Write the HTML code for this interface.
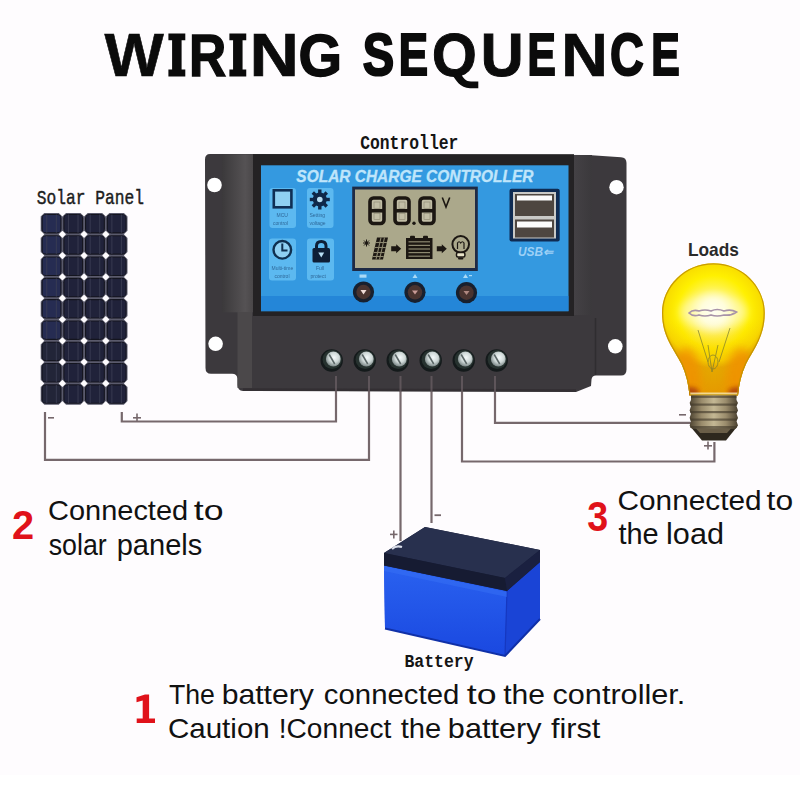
<!DOCTYPE html>
<html>
<head>
<meta charset="utf-8">
<style>
html,body{margin:0;padding:0;background:#fefcfe;}
body{width:800px;height:800px;overflow:hidden;position:relative;}
svg{position:absolute;left:0;top:0;display:block;}
.sans{font-family:"Liberation Sans",sans-serif;}
.mono{font-family:"Liberation Mono",monospace;}
</style>
</head>
<body>
<svg width="800" height="800" viewBox="0 0 800 800">
<defs>
  <radialGradient id="glass" cx="0.5" cy="0.38" r="0.62">
    <stop offset="0" stop-color="#fffff0"/>
    <stop offset="0.25" stop-color="#fffca0"/>
    <stop offset="0.55" stop-color="#fff000"/>
    <stop offset="0.85" stop-color="#f5c800"/>
    <stop offset="1" stop-color="#d99a00"/>
  </radialGradient>
  <linearGradient id="glassBottom" x1="0" y1="0" x2="0" y2="1">
    <stop offset="0" stop-color="#ff9900" stop-opacity="0"/>
    <stop offset="0.6" stop-color="#f59000" stop-opacity="0"/>
    <stop offset="0.85" stop-color="#ee8a00" stop-opacity="0.75"/>
    <stop offset="1" stop-color="#c86000" stop-opacity="0.9"/>
  </linearGradient>
  <linearGradient id="brass" x1="0" y1="0" x2="1" y2="0">
    <stop offset="0" stop-color="#5a4e3a"/>
    <stop offset="0.3" stop-color="#a89a78"/>
    <stop offset="0.55" stop-color="#c8bc98"/>
    <stop offset="0.8" stop-color="#9a8c6c"/>
    <stop offset="1" stop-color="#4a4030"/>
  </linearGradient>
  <radialGradient id="screw" cx="0.55" cy="0.4" r="0.6">
    <stop offset="0" stop-color="#f4fafa"/>
    <stop offset="0.55" stop-color="#cfd9d8"/>
    <stop offset="1" stop-color="#7c8888"/>
  </radialGradient>
  <linearGradient id="batFront" x1="0" y1="0" x2="0" y2="1">
    <stop offset="0" stop-color="#2a62f0"/>
    <stop offset="1" stop-color="#1a48e0"/>
  </linearGradient>
</defs>

<rect x="0" y="775" width="800" height="25" fill="#ffffff"/>
<!-- Title -->
<g font-family="Liberation Sans" font-weight="bold" fill="#0b0b0b" stroke="#0b0b0b" stroke-linejoin="miter"><text transform="translate(104.41,76.10) scale(1.0245,1)" font-size="61.30" stroke-width="0.6">W</text>
<text transform="translate(188.89,75.70) scale(0.8577,1)" font-size="60.14" stroke-width="1.4">R</text>
<text transform="translate(249.54,76.10) scale(1.1174,1)" font-size="61.30" stroke-width="0.6">N</text>
<text transform="translate(298.41,75.70) scale(0.9315,1)" font-size="60.14" stroke-width="1.4">G</text>
<text transform="translate(362.87,75.30) scale(0.7981,1)" font-size="58.99" stroke-width="2.2">S</text>
<text transform="translate(398.75,75.30) scale(0.7436,1)" font-size="58.99" stroke-width="2.2">E</text>
<text transform="translate(431.92,75.90) scale(0.9481,1)" font-size="60.72" stroke-width="1.0">O</text>
<path stroke="none" d="M452,74.5 C456,80 460,88.2 470,88.2 L478.3,88.2 L478.3,81.5 L471,81.5 C466,81.5 463,78 461,73.5 Z"/>
<text transform="translate(480.68,75.90) scale(0.9764,1)" font-size="60.72" stroke-width="1.0">U</text>
<text transform="translate(527.52,75.30) scale(0.7181,1)" font-size="58.99" stroke-width="2.2">E</text>
<text transform="translate(561.06,76.10) scale(1.0634,1)" font-size="61.30" stroke-width="0.6">N</text>
<text transform="translate(609.92,75.40) scale(0.7896,1)" font-size="59.28" stroke-width="2.0">C</text>
<text transform="translate(651.31,75.30) scale(0.7238,1)" font-size="58.99" stroke-width="2.2">E</text>
<path stroke="none" d="M168.4,33.5 H185.3 V40.3 H181.60 V69.60 H185.3 V76.4 H168.4 V69.60 H172.10 V40.3 H168.4 Z"/>
<path stroke="none" d="M229.4,33.5 H246.25 V40.3 H242.57 V69.60 H246.25 V76.4 H229.4 V69.60 H233.07 V40.3 H229.4 Z"/></g>

<!-- TEXTS -->
<path d="M136.5,697.3 L145,694.4 L149.1,694.4 L149.1,718.6 L155,718.6 L155,723.1 L136.7,723.1 L136.7,718.6 L142.7,718.6 L142.7,700.6 L136.5,702.3 Z" fill="#e0121a"/>
<g font-family="Liberation Sans" fill="#111111">
<text transform="translate(48.05,520.00) scale(1.0317,1)" font-size="28.08">Connected</text>
<text transform="translate(193.79,520.00) scale(1.2718,1)" font-size="28.08">to</text>
<text transform="translate(48.70,554.50) scale(0.9196,1)" font-size="29.11">solar</text>
<text transform="translate(116.72,554.50) scale(0.9979,1)" font-size="29.11">panels</text>
<text transform="translate(617.51,509.70) scale(1.0765,1)" font-size="27.67">Connected</text>
<text transform="translate(766.56,509.70) scale(1.1499,1)" font-size="27.67">to</text>
<text transform="translate(618.42,543.66) scale(1.0106,1)" font-size="28.64">the</text>
<text transform="translate(666.06,543.66) scale(1.0692,1)" font-size="28.64">load</text>
<text transform="translate(168.97,703.50) scale(0.9853,1)" font-size="27.05">The</text>
<text transform="translate(221.64,703.50) scale(1.1163,1)" font-size="27.05">battery</text>
<text transform="translate(323.82,703.50) scale(1.0859,1)" font-size="27.05">connected</text>
<text transform="translate(466.79,703.50) scale(1.3201,1)" font-size="27.05">to</text>
<text transform="translate(503.15,703.50) scale(1.1116,1)" font-size="27.05">the</text>
<text transform="translate(552.52,703.50) scale(1.1331,1)" font-size="27.05">controller.</text>
<text transform="translate(167.92,738.00) scale(1.0786,1)" font-size="27.40">Caution</text>
<text transform="translate(278.72,738.00) scale(1.0269,1)" font-size="27.40">!Connect</text>
<text transform="translate(400.67,738.00) scale(1.0634,1)" font-size="27.40">the</text>
<text transform="translate(447.86,738.00) scale(1.1177,1)" font-size="27.40">battery</text>
<text transform="translate(550.94,738.00) scale(1.1191,1)" font-size="27.40">first</text>
</g>
<text transform="translate(12.06,538.75) scale(0.9689,1)" font-family="Liberation Sans" font-weight="bold" font-style="normal" font-size="41.07" fill="#e0121a">2</text>
<text transform="translate(587.35,531.25) scale(0.8968,1)" font-family="Liberation Sans" font-weight="bold" font-style="normal" font-size="41.93" fill="#e0121a">3</text>
<text transform="translate(687.99,255.60) scale(0.9575,1)" font-family="Liberation Sans" font-weight="bold" font-style="normal" font-size="18.08" fill="#2a2a2a">Loads</text>
<text transform="translate(360.14,149.00) scale(0.8274,1)" font-family="Liberation Mono" font-weight="bold" font-style="normal" font-size="19.79" fill="#151515">Controller</text>
<text transform="translate(36.85,204.00) scale(0.8315,1)" font-family="Liberation Mono" font-weight="normal" font-style="normal" font-size="19.52" fill="#1c1c1c" stroke="#1c1c1c" stroke-width="0.45">Solar Panel</text>
<text transform="translate(404.45,666.90) scale(0.8697,1)" font-family="Liberation Mono" font-weight="bold" font-style="normal" font-size="18.94" fill="#151515">Battery</text>
<!-- WIRES -->
<g fill="none" stroke="#76686c" stroke-width="2.2">
  <polyline points="121.8,412 121.8,421.5 336,421.5 336,378"/>
  <polyline points="45,412 45,459.8 369,459.8 369,378"/>
  <polyline points="400.5,378 400.5,541"/>
  <polyline points="431.5,378 431.5,523"/>
  <polyline points="462,378 462,461.5 714.4,461.5 714.4,442"/>
  <polyline points="495,378 495,422.8 691,422.8"/>
</g>
<g fill="#76686c" class="sans" font-size="12" font-weight="bold">
  <rect x="48" y="417" width="6" height="1.6"/>
  <rect x="133" y="417" width="8" height="1.6"/><rect x="136.2" y="413.5" width="1.6" height="8"/>
  <rect x="679" y="414" width="7" height="1.6"/>
  <rect x="704" y="445" width="8" height="1.6"/><rect x="707.2" y="441.5" width="1.6" height="8"/>
  <rect x="390" y="533.6" width="7.5" height="1.6"/><rect x="393" y="530.5" width="1.6" height="8"/>
  <rect x="434.5" y="514.3" width="6.5" height="1.8"/>
</g>

<!-- SOLAR PANEL placeholder -->
<g id="panel"><rect x="40.7" y="213.0" width="86.80" height="191.70" rx="3" fill="#5a5a6c"/>
<rect x="41.60" y="213.90" width="19.90" height="19.50" rx="4.5" fill="#14151f"/>
<rect x="42.70" y="215.00" width="17.70" height="17.30" rx="2.5" fill="#262c52"/>
<line x1="46.78" y1="214.50" x2="46.78" y2="232.80" stroke="#3a3c52" stroke-width="0.9"/>
<line x1="56.32" y1="214.50" x2="56.32" y2="232.80" stroke="#3a3c52" stroke-width="0.9"/>
<rect x="63.30" y="213.90" width="19.90" height="19.50" rx="4.5" fill="#14151f"/>
<rect x="64.40" y="215.00" width="17.70" height="17.30" rx="2.5" fill="#20223a"/>
<line x1="68.48" y1="214.50" x2="68.48" y2="232.80" stroke="#3a3c52" stroke-width="0.9"/>
<line x1="78.02" y1="214.50" x2="78.02" y2="232.80" stroke="#3a3c52" stroke-width="0.9"/>
<rect x="85.00" y="213.90" width="19.90" height="19.50" rx="4.5" fill="#14151f"/>
<rect x="86.10" y="215.00" width="17.70" height="17.30" rx="2.5" fill="#20223a"/>
<line x1="90.18" y1="214.50" x2="90.18" y2="232.80" stroke="#3a3c52" stroke-width="0.9"/>
<line x1="99.72" y1="214.50" x2="99.72" y2="232.80" stroke="#3a3c52" stroke-width="0.9"/>
<rect x="106.70" y="213.90" width="19.90" height="19.50" rx="4.5" fill="#14151f"/>
<rect x="107.80" y="215.00" width="17.70" height="17.30" rx="2.5" fill="#20223a"/>
<line x1="111.88" y1="214.50" x2="111.88" y2="232.80" stroke="#3a3c52" stroke-width="0.9"/>
<line x1="121.42" y1="214.50" x2="121.42" y2="232.80" stroke="#3a3c52" stroke-width="0.9"/>
<rect x="41.60" y="235.20" width="19.90" height="19.50" rx="4.5" fill="#14151f"/>
<rect x="42.70" y="236.30" width="17.70" height="17.30" rx="2.5" fill="#262c52"/>
<line x1="46.78" y1="235.80" x2="46.78" y2="254.10" stroke="#3a3c52" stroke-width="0.9"/>
<line x1="56.32" y1="235.80" x2="56.32" y2="254.10" stroke="#3a3c52" stroke-width="0.9"/>
<rect x="63.30" y="235.20" width="19.90" height="19.50" rx="4.5" fill="#14151f"/>
<rect x="64.40" y="236.30" width="17.70" height="17.30" rx="2.5" fill="#20223a"/>
<line x1="68.48" y1="235.80" x2="68.48" y2="254.10" stroke="#3a3c52" stroke-width="0.9"/>
<line x1="78.02" y1="235.80" x2="78.02" y2="254.10" stroke="#3a3c52" stroke-width="0.9"/>
<rect x="85.00" y="235.20" width="19.90" height="19.50" rx="4.5" fill="#14151f"/>
<rect x="86.10" y="236.30" width="17.70" height="17.30" rx="2.5" fill="#20223a"/>
<line x1="90.18" y1="235.80" x2="90.18" y2="254.10" stroke="#3a3c52" stroke-width="0.9"/>
<line x1="99.72" y1="235.80" x2="99.72" y2="254.10" stroke="#3a3c52" stroke-width="0.9"/>
<rect x="106.70" y="235.20" width="19.90" height="19.50" rx="4.5" fill="#14151f"/>
<rect x="107.80" y="236.30" width="17.70" height="17.30" rx="2.5" fill="#20223a"/>
<line x1="111.88" y1="235.80" x2="111.88" y2="254.10" stroke="#3a3c52" stroke-width="0.9"/>
<line x1="121.42" y1="235.80" x2="121.42" y2="254.10" stroke="#3a3c52" stroke-width="0.9"/>
<rect x="41.60" y="256.50" width="19.90" height="19.50" rx="4.5" fill="#14151f"/>
<rect x="42.70" y="257.60" width="17.70" height="17.30" rx="2.5" fill="#262c52"/>
<line x1="46.78" y1="257.10" x2="46.78" y2="275.40" stroke="#3a3c52" stroke-width="0.9"/>
<line x1="56.32" y1="257.10" x2="56.32" y2="275.40" stroke="#3a3c52" stroke-width="0.9"/>
<rect x="63.30" y="256.50" width="19.90" height="19.50" rx="4.5" fill="#14151f"/>
<rect x="64.40" y="257.60" width="17.70" height="17.30" rx="2.5" fill="#20223a"/>
<line x1="68.48" y1="257.10" x2="68.48" y2="275.40" stroke="#3a3c52" stroke-width="0.9"/>
<line x1="78.02" y1="257.10" x2="78.02" y2="275.40" stroke="#3a3c52" stroke-width="0.9"/>
<rect x="85.00" y="256.50" width="19.90" height="19.50" rx="4.5" fill="#14151f"/>
<rect x="86.10" y="257.60" width="17.70" height="17.30" rx="2.5" fill="#20223a"/>
<line x1="90.18" y1="257.10" x2="90.18" y2="275.40" stroke="#3a3c52" stroke-width="0.9"/>
<line x1="99.72" y1="257.10" x2="99.72" y2="275.40" stroke="#3a3c52" stroke-width="0.9"/>
<rect x="106.70" y="256.50" width="19.90" height="19.50" rx="4.5" fill="#14151f"/>
<rect x="107.80" y="257.60" width="17.70" height="17.30" rx="2.5" fill="#20223a"/>
<line x1="111.88" y1="257.10" x2="111.88" y2="275.40" stroke="#3a3c52" stroke-width="0.9"/>
<line x1="121.42" y1="257.10" x2="121.42" y2="275.40" stroke="#3a3c52" stroke-width="0.9"/>
<rect x="41.60" y="277.80" width="19.90" height="19.50" rx="4.5" fill="#14151f"/>
<rect x="42.70" y="278.90" width="17.70" height="17.30" rx="2.5" fill="#262c52"/>
<line x1="46.78" y1="278.40" x2="46.78" y2="296.70" stroke="#3a3c52" stroke-width="0.9"/>
<line x1="56.32" y1="278.40" x2="56.32" y2="296.70" stroke="#3a3c52" stroke-width="0.9"/>
<rect x="63.30" y="277.80" width="19.90" height="19.50" rx="4.5" fill="#14151f"/>
<rect x="64.40" y="278.90" width="17.70" height="17.30" rx="2.5" fill="#20223a"/>
<line x1="68.48" y1="278.40" x2="68.48" y2="296.70" stroke="#3a3c52" stroke-width="0.9"/>
<line x1="78.02" y1="278.40" x2="78.02" y2="296.70" stroke="#3a3c52" stroke-width="0.9"/>
<rect x="85.00" y="277.80" width="19.90" height="19.50" rx="4.5" fill="#14151f"/>
<rect x="86.10" y="278.90" width="17.70" height="17.30" rx="2.5" fill="#20223a"/>
<line x1="90.18" y1="278.40" x2="90.18" y2="296.70" stroke="#3a3c52" stroke-width="0.9"/>
<line x1="99.72" y1="278.40" x2="99.72" y2="296.70" stroke="#3a3c52" stroke-width="0.9"/>
<rect x="106.70" y="277.80" width="19.90" height="19.50" rx="4.5" fill="#14151f"/>
<rect x="107.80" y="278.90" width="17.70" height="17.30" rx="2.5" fill="#20223a"/>
<line x1="111.88" y1="278.40" x2="111.88" y2="296.70" stroke="#3a3c52" stroke-width="0.9"/>
<line x1="121.42" y1="278.40" x2="121.42" y2="296.70" stroke="#3a3c52" stroke-width="0.9"/>
<rect x="41.60" y="299.10" width="19.90" height="19.50" rx="4.5" fill="#14151f"/>
<rect x="42.70" y="300.20" width="17.70" height="17.30" rx="2.5" fill="#262c52"/>
<line x1="46.78" y1="299.70" x2="46.78" y2="318.00" stroke="#3a3c52" stroke-width="0.9"/>
<line x1="56.32" y1="299.70" x2="56.32" y2="318.00" stroke="#3a3c52" stroke-width="0.9"/>
<rect x="63.30" y="299.10" width="19.90" height="19.50" rx="4.5" fill="#14151f"/>
<rect x="64.40" y="300.20" width="17.70" height="17.30" rx="2.5" fill="#20223a"/>
<line x1="68.48" y1="299.70" x2="68.48" y2="318.00" stroke="#3a3c52" stroke-width="0.9"/>
<line x1="78.02" y1="299.70" x2="78.02" y2="318.00" stroke="#3a3c52" stroke-width="0.9"/>
<rect x="85.00" y="299.10" width="19.90" height="19.50" rx="4.5" fill="#14151f"/>
<rect x="86.10" y="300.20" width="17.70" height="17.30" rx="2.5" fill="#20223a"/>
<line x1="90.18" y1="299.70" x2="90.18" y2="318.00" stroke="#3a3c52" stroke-width="0.9"/>
<line x1="99.72" y1="299.70" x2="99.72" y2="318.00" stroke="#3a3c52" stroke-width="0.9"/>
<rect x="106.70" y="299.10" width="19.90" height="19.50" rx="4.5" fill="#14151f"/>
<rect x="107.80" y="300.20" width="17.70" height="17.30" rx="2.5" fill="#20223a"/>
<line x1="111.88" y1="299.70" x2="111.88" y2="318.00" stroke="#3a3c52" stroke-width="0.9"/>
<line x1="121.42" y1="299.70" x2="121.42" y2="318.00" stroke="#3a3c52" stroke-width="0.9"/>
<rect x="41.60" y="320.40" width="19.90" height="19.50" rx="4.5" fill="#14151f"/>
<rect x="42.70" y="321.50" width="17.70" height="17.30" rx="2.5" fill="#262c52"/>
<line x1="46.78" y1="321.00" x2="46.78" y2="339.30" stroke="#3a3c52" stroke-width="0.9"/>
<line x1="56.32" y1="321.00" x2="56.32" y2="339.30" stroke="#3a3c52" stroke-width="0.9"/>
<rect x="63.30" y="320.40" width="19.90" height="19.50" rx="4.5" fill="#14151f"/>
<rect x="64.40" y="321.50" width="17.70" height="17.30" rx="2.5" fill="#20223a"/>
<line x1="68.48" y1="321.00" x2="68.48" y2="339.30" stroke="#3a3c52" stroke-width="0.9"/>
<line x1="78.02" y1="321.00" x2="78.02" y2="339.30" stroke="#3a3c52" stroke-width="0.9"/>
<rect x="85.00" y="320.40" width="19.90" height="19.50" rx="4.5" fill="#14151f"/>
<rect x="86.10" y="321.50" width="17.70" height="17.30" rx="2.5" fill="#20223a"/>
<line x1="90.18" y1="321.00" x2="90.18" y2="339.30" stroke="#3a3c52" stroke-width="0.9"/>
<line x1="99.72" y1="321.00" x2="99.72" y2="339.30" stroke="#3a3c52" stroke-width="0.9"/>
<rect x="106.70" y="320.40" width="19.90" height="19.50" rx="4.5" fill="#14151f"/>
<rect x="107.80" y="321.50" width="17.70" height="17.30" rx="2.5" fill="#20223a"/>
<line x1="111.88" y1="321.00" x2="111.88" y2="339.30" stroke="#3a3c52" stroke-width="0.9"/>
<line x1="121.42" y1="321.00" x2="121.42" y2="339.30" stroke="#3a3c52" stroke-width="0.9"/>
<rect x="41.60" y="341.70" width="19.90" height="19.50" rx="4.5" fill="#14151f"/>
<rect x="42.70" y="342.80" width="17.70" height="17.30" rx="2.5" fill="#222538"/>
<line x1="46.78" y1="342.30" x2="46.78" y2="360.60" stroke="#3a3c52" stroke-width="0.9"/>
<line x1="56.32" y1="342.30" x2="56.32" y2="360.60" stroke="#3a3c52" stroke-width="0.9"/>
<rect x="63.30" y="341.70" width="19.90" height="19.50" rx="4.5" fill="#14151f"/>
<rect x="64.40" y="342.80" width="17.70" height="17.30" rx="2.5" fill="#20223a"/>
<line x1="68.48" y1="342.30" x2="68.48" y2="360.60" stroke="#3a3c52" stroke-width="0.9"/>
<line x1="78.02" y1="342.30" x2="78.02" y2="360.60" stroke="#3a3c52" stroke-width="0.9"/>
<rect x="85.00" y="341.70" width="19.90" height="19.50" rx="4.5" fill="#14151f"/>
<rect x="86.10" y="342.80" width="17.70" height="17.30" rx="2.5" fill="#20223a"/>
<line x1="90.18" y1="342.30" x2="90.18" y2="360.60" stroke="#3a3c52" stroke-width="0.9"/>
<line x1="99.72" y1="342.30" x2="99.72" y2="360.60" stroke="#3a3c52" stroke-width="0.9"/>
<rect x="106.70" y="341.70" width="19.90" height="19.50" rx="4.5" fill="#14151f"/>
<rect x="107.80" y="342.80" width="17.70" height="17.30" rx="2.5" fill="#20223a"/>
<line x1="111.88" y1="342.30" x2="111.88" y2="360.60" stroke="#3a3c52" stroke-width="0.9"/>
<line x1="121.42" y1="342.30" x2="121.42" y2="360.60" stroke="#3a3c52" stroke-width="0.9"/>
<rect x="41.60" y="363.00" width="19.90" height="19.50" rx="4.5" fill="#14151f"/>
<rect x="42.70" y="364.10" width="17.70" height="17.30" rx="2.5" fill="#222538"/>
<line x1="46.78" y1="363.60" x2="46.78" y2="381.90" stroke="#3a3c52" stroke-width="0.9"/>
<line x1="56.32" y1="363.60" x2="56.32" y2="381.90" stroke="#3a3c52" stroke-width="0.9"/>
<rect x="63.30" y="363.00" width="19.90" height="19.50" rx="4.5" fill="#14151f"/>
<rect x="64.40" y="364.10" width="17.70" height="17.30" rx="2.5" fill="#20223a"/>
<line x1="68.48" y1="363.60" x2="68.48" y2="381.90" stroke="#3a3c52" stroke-width="0.9"/>
<line x1="78.02" y1="363.60" x2="78.02" y2="381.90" stroke="#3a3c52" stroke-width="0.9"/>
<rect x="85.00" y="363.00" width="19.90" height="19.50" rx="4.5" fill="#14151f"/>
<rect x="86.10" y="364.10" width="17.70" height="17.30" rx="2.5" fill="#20223a"/>
<line x1="90.18" y1="363.60" x2="90.18" y2="381.90" stroke="#3a3c52" stroke-width="0.9"/>
<line x1="99.72" y1="363.60" x2="99.72" y2="381.90" stroke="#3a3c52" stroke-width="0.9"/>
<rect x="106.70" y="363.00" width="19.90" height="19.50" rx="4.5" fill="#14151f"/>
<rect x="107.80" y="364.10" width="17.70" height="17.30" rx="2.5" fill="#20223a"/>
<line x1="111.88" y1="363.60" x2="111.88" y2="381.90" stroke="#3a3c52" stroke-width="0.9"/>
<line x1="121.42" y1="363.60" x2="121.42" y2="381.90" stroke="#3a3c52" stroke-width="0.9"/>
<rect x="41.60" y="384.30" width="19.90" height="19.50" rx="4.5" fill="#14151f"/>
<rect x="42.70" y="385.40" width="17.70" height="17.30" rx="2.5" fill="#222538"/>
<line x1="46.78" y1="384.90" x2="46.78" y2="403.20" stroke="#3a3c52" stroke-width="0.9"/>
<line x1="56.32" y1="384.90" x2="56.32" y2="403.20" stroke="#3a3c52" stroke-width="0.9"/>
<rect x="63.30" y="384.30" width="19.90" height="19.50" rx="4.5" fill="#14151f"/>
<rect x="64.40" y="385.40" width="17.70" height="17.30" rx="2.5" fill="#20223a"/>
<line x1="68.48" y1="384.90" x2="68.48" y2="403.20" stroke="#3a3c52" stroke-width="0.9"/>
<line x1="78.02" y1="384.90" x2="78.02" y2="403.20" stroke="#3a3c52" stroke-width="0.9"/>
<rect x="85.00" y="384.30" width="19.90" height="19.50" rx="4.5" fill="#14151f"/>
<rect x="86.10" y="385.40" width="17.70" height="17.30" rx="2.5" fill="#20223a"/>
<line x1="90.18" y1="384.90" x2="90.18" y2="403.20" stroke="#3a3c52" stroke-width="0.9"/>
<line x1="99.72" y1="384.90" x2="99.72" y2="403.20" stroke="#3a3c52" stroke-width="0.9"/>
<rect x="106.70" y="384.30" width="19.90" height="19.50" rx="4.5" fill="#14151f"/>
<rect x="107.80" y="385.40" width="17.70" height="17.30" rx="2.5" fill="#20223a"/>
<line x1="111.88" y1="384.90" x2="111.88" y2="403.20" stroke="#3a3c52" stroke-width="0.9"/>
<line x1="121.42" y1="384.90" x2="121.42" y2="403.20" stroke="#3a3c52" stroke-width="0.9"/>
<polygon points="40.70,209.40 44.30,213.00 40.70,216.60 37.10,213.00" fill="#fefcfe"/>
<polygon points="62.40,209.40 66.00,213.00 62.40,216.60 58.80,213.00" fill="#fefcfe"/>
<polygon points="84.10,209.40 87.70,213.00 84.10,216.60 80.50,213.00" fill="#fefcfe"/>
<polygon points="105.80,209.40 109.40,213.00 105.80,216.60 102.20,213.00" fill="#fefcfe"/>
<polygon points="127.50,209.40 131.10,213.00 127.50,216.60 123.90,213.00" fill="#fefcfe"/>
<polygon points="40.70,230.70 44.30,234.30 40.70,237.90 37.10,234.30" fill="#fefcfe"/>
<polygon points="62.40,230.70 66.00,234.30 62.40,237.90 58.80,234.30" fill="#fefcfe"/>
<polygon points="84.10,230.70 87.70,234.30 84.10,237.90 80.50,234.30" fill="#fefcfe"/>
<polygon points="105.80,230.70 109.40,234.30 105.80,237.90 102.20,234.30" fill="#fefcfe"/>
<polygon points="127.50,230.70 131.10,234.30 127.50,237.90 123.90,234.30" fill="#fefcfe"/>
<polygon points="40.70,252.00 44.30,255.60 40.70,259.20 37.10,255.60" fill="#fefcfe"/>
<polygon points="62.40,252.00 66.00,255.60 62.40,259.20 58.80,255.60" fill="#fefcfe"/>
<polygon points="84.10,252.00 87.70,255.60 84.10,259.20 80.50,255.60" fill="#fefcfe"/>
<polygon points="105.80,252.00 109.40,255.60 105.80,259.20 102.20,255.60" fill="#fefcfe"/>
<polygon points="127.50,252.00 131.10,255.60 127.50,259.20 123.90,255.60" fill="#fefcfe"/>
<polygon points="40.70,273.30 44.30,276.90 40.70,280.50 37.10,276.90" fill="#fefcfe"/>
<polygon points="62.40,273.30 66.00,276.90 62.40,280.50 58.80,276.90" fill="#fefcfe"/>
<polygon points="84.10,273.30 87.70,276.90 84.10,280.50 80.50,276.90" fill="#fefcfe"/>
<polygon points="105.80,273.30 109.40,276.90 105.80,280.50 102.20,276.90" fill="#fefcfe"/>
<polygon points="127.50,273.30 131.10,276.90 127.50,280.50 123.90,276.90" fill="#fefcfe"/>
<polygon points="40.70,294.60 44.30,298.20 40.70,301.80 37.10,298.20" fill="#fefcfe"/>
<polygon points="62.40,294.60 66.00,298.20 62.40,301.80 58.80,298.20" fill="#fefcfe"/>
<polygon points="84.10,294.60 87.70,298.20 84.10,301.80 80.50,298.20" fill="#fefcfe"/>
<polygon points="105.80,294.60 109.40,298.20 105.80,301.80 102.20,298.20" fill="#fefcfe"/>
<polygon points="127.50,294.60 131.10,298.20 127.50,301.80 123.90,298.20" fill="#fefcfe"/>
<polygon points="40.70,315.90 44.30,319.50 40.70,323.10 37.10,319.50" fill="#fefcfe"/>
<polygon points="62.40,315.90 66.00,319.50 62.40,323.10 58.80,319.50" fill="#fefcfe"/>
<polygon points="84.10,315.90 87.70,319.50 84.10,323.10 80.50,319.50" fill="#fefcfe"/>
<polygon points="105.80,315.90 109.40,319.50 105.80,323.10 102.20,319.50" fill="#fefcfe"/>
<polygon points="127.50,315.90 131.10,319.50 127.50,323.10 123.90,319.50" fill="#fefcfe"/>
<polygon points="40.70,337.20 44.30,340.80 40.70,344.40 37.10,340.80" fill="#fefcfe"/>
<polygon points="62.40,337.20 66.00,340.80 62.40,344.40 58.80,340.80" fill="#fefcfe"/>
<polygon points="84.10,337.20 87.70,340.80 84.10,344.40 80.50,340.80" fill="#fefcfe"/>
<polygon points="105.80,337.20 109.40,340.80 105.80,344.40 102.20,340.80" fill="#fefcfe"/>
<polygon points="127.50,337.20 131.10,340.80 127.50,344.40 123.90,340.80" fill="#fefcfe"/>
<polygon points="40.70,358.50 44.30,362.10 40.70,365.70 37.10,362.10" fill="#fefcfe"/>
<polygon points="62.40,358.50 66.00,362.10 62.40,365.70 58.80,362.10" fill="#fefcfe"/>
<polygon points="84.10,358.50 87.70,362.10 84.10,365.70 80.50,362.10" fill="#fefcfe"/>
<polygon points="105.80,358.50 109.40,362.10 105.80,365.70 102.20,362.10" fill="#fefcfe"/>
<polygon points="127.50,358.50 131.10,362.10 127.50,365.70 123.90,362.10" fill="#fefcfe"/>
<polygon points="40.70,379.80 44.30,383.40 40.70,387.00 37.10,383.40" fill="#fefcfe"/>
<polygon points="62.40,379.80 66.00,383.40 62.40,387.00 58.80,383.40" fill="#fefcfe"/>
<polygon points="84.10,379.80 87.70,383.40 84.10,387.00 80.50,383.40" fill="#fefcfe"/>
<polygon points="105.80,379.80 109.40,383.40 105.80,387.00 102.20,383.40" fill="#fefcfe"/>
<polygon points="127.50,379.80 131.10,383.40 127.50,387.00 123.90,383.40" fill="#fefcfe"/>
<polygon points="40.70,401.10 44.30,404.70 40.70,408.30 37.10,404.70" fill="#fefcfe"/>
<polygon points="62.40,401.10 66.00,404.70 62.40,408.30 58.80,404.70" fill="#fefcfe"/>
<polygon points="84.10,401.10 87.70,404.70 84.10,408.30 80.50,404.70" fill="#fefcfe"/>
<polygon points="105.80,401.10 109.40,404.70 105.80,408.30 102.20,404.70" fill="#fefcfe"/>
<polygon points="127.50,401.10 131.10,404.70 127.50,408.30 123.90,404.70" fill="#fefcfe"/></g>

<!-- CONTROLLER placeholder -->
<g id="controller"><defs>
<linearGradient id="lstrip" x1="0" y1="0" x2="1" y2="0">
 <stop offset="0" stop-color="#3b393b"/><stop offset="0.75" stop-color="#555254"/><stop offset="1" stop-color="#4a4749"/>
</linearGradient>
<linearGradient id="rstrip" x1="0" y1="0" x2="1" y2="0">
 <stop offset="0" stop-color="#444145"/><stop offset="1" stop-color="#3b393c"/>
</linearGradient>
</defs>
<path d="M210,154 L588,155 L621,157.2 Q626.5,157.5 626.5,163 L626.5,369.5 Q626.5,375.5 621,375.5 L596,375.5 Q592,375.5 591.5,379.5 L591,386 L576,392 L243,391 Q237.5,390.5 237.5,385 L237.5,378.5 Q237,373.8 232,373.8 L211,373.8 Q205.5,373.8 205.5,368 L205,159.5 Q205,154 210,154 Z" fill="#3c393d"/>
<rect x="222" y="154.3" width="31" height="158" fill="url(#lstrip)"/>
<rect x="237.5" y="312" width="14.5" height="76" fill="#4b484a"/>
<rect x="574" y="155" width="18" height="160" fill="url(#rstrip)"/>
<rect x="253" y="154.2" width="321" height="161.8" fill="#242224"/>
<line x1="595.5" y1="318" x2="595.5" y2="375" stroke="#2f2d30" stroke-width="1.5"/><path d="M243,389.5 L576,390.5" stroke="#332f33" stroke-width="2.5"/>
<!-- holes -->
<circle cx="214.5" cy="185" r="7.3" fill="#fff"/>
<circle cx="616.5" cy="187.2" r="7.2" fill="#fff"/>
<circle cx="215.6" cy="343.8" r="7.3" fill="#fff"/>
<circle cx="615.3" cy="346.3" r="7.3" fill="#fff"/>
<!-- blue panel -->
<rect x="261" y="165.3" width="307.5" height="145.9" fill="#3499e0"/>
<rect x="261" y="296" width="307.5" height="15.2" fill="#2282d6" opacity="0.85"/>
<!-- header text -->
<text transform="translate(296.35,181.50) scale(0.9851,1)" font-family="Liberation Sans" font-weight="bold" font-style="italic" font-size="15.71" fill="#bfe5fb" stroke="#bfe5fb" stroke-width="0.35">SOLAR CHARGE CONTROLLER</text>
<!-- tiles -->
<rect x="269.5" y="188" width="26.5" height="40" rx="3" fill="#5cb9f0"/>
<rect x="307" y="188" width="26.5" height="40" rx="3" fill="#5cb9f0"/>
<rect x="269" y="238.5" width="27" height="42" rx="3" fill="#5cb9f0"/>
<rect x="307" y="238.5" width="27" height="42" rx="3" fill="#5cb9f0"/>
<!-- tile icons -->
<rect x="273.8" y="190.3" width="17.6" height="17" fill="#8fd0f2" stroke="#0f2f55" stroke-width="2.6"/>
<g transform="translate(319.8,199.5)" fill="#10284a">
  <circle r="7"/>
  <g stroke="#10284a" stroke-width="3.4">
   <line x1="0" y1="-10" x2="0" y2="10"/><line x1="-10" y1="0" x2="10" y2="0"/>
   <line x1="-7" y1="-7" x2="7" y2="7"/><line x1="-7" y1="7" x2="7" y2="-7"/>
  </g>
  <circle r="2.8" fill="#b8def4"/>
</g>
<circle cx="282.3" cy="249.8" r="8.8" fill="#8fd0f2" stroke="#0f3050" stroke-width="2.4"/>
<path d="M282.3,243.5 L282.3,250.5 L287.5,250.5" fill="none" stroke="#0f3050" stroke-width="2"/>
<path d="M316.5,249 L316.5,246 Q316.5,241.5 321.3,241.5 Q326,241.5 326,246 L326,249" fill="none" stroke="#0e1e36" stroke-width="3"/>
<rect x="312.5" y="248" width="17.5" height="14.5" rx="1.5" fill="#0e1e36"/>
<path d="M318.3,252.5 L324.2,252.5 L321.25,257.5 Z" fill="#b8def4"/>
<!-- tiny tile texts -->
<g fill="#1d4a78" font-family="Liberation Sans" font-size="5" opacity="0.75">
  <text x="276.5" y="217">MCU</text><text x="273" y="225">control</text>
  <text x="309.5" y="217">Setting</text><text x="309.5" y="225">voltage</text>
  <text x="271.5" y="270">Multi-time</text><text x="274.5" y="278">control</text>
  <text x="316" y="270">Full</text><text x="310.5" y="278">protect</text>
</g>
<!-- LCD -->
<rect x="352.2" y="186.6" width="125.6" height="84.4" fill="#1e2a44"/>
<rect x="355" y="189.5" width="120" height="78.5" fill="#aba88b"/>
<g id="lcd"><rect x="370.0" y="198.0" width="14" height="25.5" rx="3.5" fill="#c2bea6" stroke="#1c1712" stroke-width="3.6"/>
<line x1="369.5" y1="210.75" x2="384.5" y2="210.75" stroke="#1c1712" stroke-width="3.6"/>
<rect x="374.0" y="202.0" width="6" height="6.25" fill="none" stroke="#8a8670" stroke-width="0.6"/>
<rect x="374.0" y="213.25" width="6" height="6.25" fill="none" stroke="#8a8670" stroke-width="0.6"/>
<rect x="395.0" y="198.0" width="14" height="25.5" rx="3.5" fill="#c2bea6" stroke="#1c1712" stroke-width="3.6"/>
<line x1="394.5" y1="210.75" x2="409.5" y2="210.75" stroke="#1c1712" stroke-width="3.6"/>
<rect x="399.0" y="202.0" width="6" height="6.25" fill="none" stroke="#8a8670" stroke-width="0.6"/>
<rect x="399.0" y="213.25" width="6" height="6.25" fill="none" stroke="#8a8670" stroke-width="0.6"/>
<rect x="420.0" y="198.0" width="14" height="25.5" rx="3.5" fill="#c2bea6" stroke="#1c1712" stroke-width="3.6"/>
<line x1="419.5" y1="210.75" x2="434.5" y2="210.75" stroke="#1c1712" stroke-width="3.6"/>
<rect x="424.0" y="202.0" width="6" height="6.25" fill="none" stroke="#8a8670" stroke-width="0.6"/>
<rect x="424.0" y="213.25" width="6" height="6.25" fill="none" stroke="#8a8670" stroke-width="0.6"/>
<circle cx="414" cy="223.3" r="1.7" fill="#1c1712"/>
<path d="M442.3,197.5 L446,207 L449.7,197.5" fill="none" stroke="#1c1712" stroke-width="1.6"/>
<g stroke="#1c1712" stroke-width="1" transform="translate(366.5,243)"><line x1="-3.5" y1="0" x2="3.5" y2="0"/><line x1="0" y1="-3.5" x2="0" y2="3.5"/><line x1="-2.5" y1="-2.5" x2="2.5" y2="2.5"/><line x1="-2.5" y1="2.5" x2="2.5" y2="-2.5"/></g>
<circle cx="366.5" cy="243" r="1.5" fill="#1c1712"/>
<path d="M377,237.5 L388,237.5 L383,259.5 L372,259.5 Z" fill="#1c1712"/>
<g stroke="#8c8870" stroke-width="1.1"><line x1="375.9" y1="242.5" x2="386.9" y2="242.5"/><line x1="374.8" y1="247.5" x2="385.8" y2="247.5"/><line x1="373.7" y1="252.5" x2="384.7" y2="252.5"/><line x1="372.6" y1="256.5" x2="383.6" y2="256.5"/><line x1="381" y1="237.5" x2="376" y2="259.5"/><line x1="384.5" y1="237.5" x2="379.5" y2="259.5"/></g>
<path d="M391.2,246.3 L396.2,246.3 L396.2,244.3 L401.2,248.8 L396.2,253.3 L396.2,251.3 L391.2,251.3 Z" fill="#1c1712"/>
<path d="M436.8,246.3 L441.8,246.3 L441.8,244.3 L446.8,248.8 L441.8,253.3 L441.8,251.3 L436.8,251.3 Z" fill="#1c1712"/>
<rect x="410" y="235.8" width="5" height="3" rx="1" fill="#1c1712"/><rect x="423" y="235.8" width="5" height="3" rx="1" fill="#1c1712"/>
<rect x="406" y="238" width="26.5" height="21" fill="#1c1712"/>
<rect x="408.5" y="241.2" width="21.5" height="1.2" fill="#8c8870"/>
<rect x="408.5" y="244.8" width="21.5" height="1.2" fill="#8c8870"/>
<rect x="408.5" y="248.4" width="21.5" height="1.2" fill="#8c8870"/>
<rect x="408.5" y="252.0" width="21.5" height="1.2" fill="#8c8870"/>
<rect x="408.5" y="255.6" width="21.5" height="1.2" fill="#8c8870"/>
<circle cx="460.7" cy="244.3" r="8.3" fill="none" stroke="#1c1712" stroke-width="2"/>
<path d="M457.5,249 L457.5,243 Q459,240.5 460.7,243 Q462.4,240.5 464,243 L464,249" fill="none" stroke="#1c1712" stroke-width="1.2"/>
<rect x="456.5" y="252.5" width="8.4" height="4.5" rx="1.5" fill="#e8e4c8" stroke="#1c1712" stroke-width="1.5"/>
<rect x="458" y="257.5" width="5.4" height="2" rx="1" fill="#1c1712"/></g>
<!-- USB -->
<rect x="509.5" y="188.7" width="50.2" height="52.8" rx="2" fill="#0f2b52"/>
<rect x="513" y="192" width="43" height="46.5" fill="#c9c9c6"/>
<rect x="515" y="194" width="39" height="22" fill="#4e4640"/>
<rect x="517" y="195.5" width="35" height="5" fill="#fbfbfb"/>
<rect x="515" y="219.5" width="39" height="18" fill="#4e4640"/>
<rect x="517" y="221.5" width="35" height="6" fill="#fbfbfb"/>
<text x="518" y="256" font-family="Liberation Sans" font-weight="bold" font-style="italic" font-size="12" fill="#9dd0f6" textLength="35" lengthAdjust="spacingAndGlyphs">USB⇐</text>
<!-- buttons -->
<g>
 <g fill="#bfe6fb" opacity="0.85">
  <rect x="359.5" y="274.5" width="7" height="3.2"/>
  <path d="M412.5,278 L415,274 L417.5,278 Z"/>
  <path d="M463,278 L465.5,274 L468,278 Z"/><rect x="469" y="275" width="3" height="1.2"/>
 </g>
 <circle cx="363.5" cy="292" r="10.6" fill="#18202e"/>
 <circle cx="363.5" cy="292" r="7.2" fill="#4a3430"/>
 <circle cx="415" cy="292.3" r="10.6" fill="#18202e"/>
 <circle cx="415" cy="292.3" r="7.2" fill="#4a3430"/>
 <circle cx="466.5" cy="292.7" r="10.6" fill="#18202e"/>
 <circle cx="466.5" cy="292.7" r="7.2" fill="#4a3430"/>
 <path d="M360.5,290 L366.5,290 L363.5,294.5 Z" fill="#f0dcd8"/>
 <path d="M412,290.5 L418,290.5 L415,294.5 Z" fill="#c89a96"/>
 <path d="M463.5,291 L469.5,291 L466.5,295 Z" fill="#b08880"/>
</g>
<!-- screws -->
<g id="screws"><circle cx="331.7" cy="360.5" r="11.2" fill="#141a1b"/>
<circle cx="332.2" cy="359.5" r="9.6" fill="#26322f"/>
<circle cx="333.3" cy="359.0" r="7.4" fill="url(#screw)"/>
<line x1="329.2" y1="354.5" x2="334.7" y2="364.0" stroke="#5a6666" stroke-width="1.5"/>
<circle cx="364.7" cy="360.5" r="11.2" fill="#141a1b"/>
<circle cx="365.2" cy="359.5" r="9.6" fill="#26322f"/>
<circle cx="366.3" cy="359.0" r="7.4" fill="url(#screw)"/>
<line x1="362.2" y1="354.5" x2="367.7" y2="364.0" stroke="#5a6666" stroke-width="1.5"/>
<circle cx="397.7" cy="360.5" r="11.2" fill="#141a1b"/>
<circle cx="398.2" cy="359.5" r="9.6" fill="#26322f"/>
<circle cx="399.3" cy="359.0" r="7.4" fill="url(#screw)"/>
<line x1="395.2" y1="354.5" x2="400.7" y2="364.0" stroke="#5a6666" stroke-width="1.5"/>
<circle cx="430.7" cy="360.5" r="11.2" fill="#141a1b"/>
<circle cx="431.2" cy="359.5" r="9.6" fill="#26322f"/>
<circle cx="432.3" cy="359.0" r="7.4" fill="url(#screw)"/>
<line x1="428.2" y1="354.5" x2="433.7" y2="364.0" stroke="#5a6666" stroke-width="1.5"/>
<circle cx="463.7" cy="360.5" r="11.2" fill="#141a1b"/>
<circle cx="464.2" cy="359.5" r="9.6" fill="#26322f"/>
<circle cx="465.3" cy="359.0" r="7.4" fill="url(#screw)"/>
<line x1="461.2" y1="354.5" x2="466.7" y2="364.0" stroke="#5a6666" stroke-width="1.5"/>
<circle cx="496.7" cy="360.5" r="11.2" fill="#141a1b"/>
<circle cx="497.2" cy="359.5" r="9.6" fill="#26322f"/>
<circle cx="498.3" cy="359.0" r="7.4" fill="url(#screw)"/>
<line x1="494.2" y1="354.5" x2="499.7" y2="364.0" stroke="#5a6666" stroke-width="1.5"/></g>
</g>

<g stroke="#7a6c72" stroke-width="2" opacity="0.55"><line x1="336" y1="376" x2="336" y2="392"/><line x1="369" y1="376" x2="369" y2="392"/><line x1="400.5" y1="376" x2="400.5" y2="392"/><line x1="431.5" y1="376" x2="431.5" y2="392"/><line x1="462" y1="376" x2="462" y2="392"/><line x1="495" y1="376" x2="495" y2="392"/></g>
<!-- BATTERY placeholder -->
<g id="battery"><polygon points="384,564 507,590 540,561 540,619 505,656 385,628.5" fill="#1a46dc"/>
<polygon points="384,564 507,590 505,656 385,628.5" fill="url(#batFront)"/>
<polygon points="507,590 540,561 540,619 505,656" fill="#1a44d6"/>
<line x1="507" y1="590" x2="505" y2="656" stroke="#1638c0" stroke-width="1.2"/>
<polyline points="385,628.5 505,656 540,619" fill="none" stroke="#1030a8" stroke-width="2"/>
<polygon points="384,566 507,592 507,597 384,571" fill="#3a74f6" opacity="0.45"/>
<!-- lid -->
<polygon points="384,553 425,527 540,550 540,562 507,591 384,565.5" fill="#1a1f3a"/>
<polygon points="384,553 425,527 540,550 505,578" fill="#28304e"/>
<polygon points="384,553 505,578 507,591 384,565.5" fill="#161b32"/>
<polygon points="505,578 540,550 540,562 507,591" fill="#1a2040"/>
<path d="M392,549 Q396,545 402,547" stroke="#d8dce8" stroke-width="2.2" fill="none"/>
</g>

<!-- BULB placeholder -->
<g id="bulb"><defs>
 <clipPath id="glassClip"><path d="M713.5,263.3 C742,263.3 764.8,286 764.8,313 C764.8,337 753,350 746,364 C741.5,374 739,384 738,395.5 L689.5,395.5 C688.5,384 686,374 681.5,364 C674.5,350 662,337 662,313 C662,286 685,263.3 713.5,263.3 Z"/></clipPath>
 <radialGradient id="glass2" cx="713.5" cy="312" r="56" gradientUnits="userSpaceOnUse">
  <stop offset="0" stop-color="#ffffe8"/>
  <stop offset="0.22" stop-color="#fffcc0"/>
  <stop offset="0.42" stop-color="#fff450"/>
  <stop offset="0.65" stop-color="#fff000"/>
  <stop offset="0.88" stop-color="#f8dc00"/>
  <stop offset="1" stop-color="#e0b000"/>
 </radialGradient>
 <linearGradient id="orangeV" x1="0" y1="0" x2="0" y2="1">
  <stop offset="0" stop-color="#f0a000" stop-opacity="0"/>
  <stop offset="0.45" stop-color="#f0a000" stop-opacity="0.25"/>
  <stop offset="1" stop-color="#e88000" stop-opacity="0.55"/>
 </linearGradient>
 <filter id="blur3" x="-50%" y="-50%" width="200%" height="200%"><feGaussianBlur stdDeviation="4"/></filter>
 <filter id="blur2" x="-50%" y="-50%" width="200%" height="200%"><feGaussianBlur stdDeviation="2"/></filter>
</defs>
<g clip-path="url(#glassClip)">
 <rect x="655" y="258" width="115" height="140" fill="url(#glass2)"/>
 <rect x="655" y="320" width="115" height="78" fill="url(#orangeV)"/>
 <ellipse cx="713.5" cy="312" rx="34" ry="18" fill="#ffffff" opacity="0.45" filter="url(#blur3)"/>
 <ellipse cx="686" cy="378" rx="15" ry="30" fill="#f09000" opacity="0.8" filter="url(#blur3)"/>
 <ellipse cx="741" cy="378" rx="15" ry="30" fill="#f09000" opacity="0.8" filter="url(#blur3)"/>
 <ellipse cx="690" cy="392" rx="9" ry="5" fill="#a83a10" opacity="0.8" filter="url(#blur2)"/>
 <ellipse cx="737" cy="392" rx="9" ry="5" fill="#a83a10" opacity="0.8" filter="url(#blur2)"/>
 <rect x="690" y="392.5" width="48" height="3" fill="#f6e8b0" opacity="0.8"/>
 <path d="M713.5,263.3 C742,263.3 764.8,286 764.8,313 C764.8,337 753,350 746,364 C741.5,374 739,384 738,395.5 L689.5,395.5 C688.5,384 686,374 681.5,364 C674.5,350 662,337 662,313 C662,286 685,263.3 713.5,263.3 Z" fill="none" stroke="#c09000" stroke-width="2.4" opacity="0.85"/>
</g>
<!-- filament -->
<path d="M689,313 Q693,309 699,311 Q705,309 711,311 Q717,308 724,311 Q731,309 736.5,312 Q731,316 724,315 Q717,317 711,315 Q705,317 699,315 Q693,317 689,313 Z" fill="none" stroke="#a893a8" stroke-width="1.7"/>
<g stroke="#7a7a30" stroke-width="1" fill="none" opacity="0.7">
<path d="M698,330 L708,362"/><path d="M730,328 L719,362"/><path d="M708,345 L712,372 L718,345"/>
<ellipse cx="713" cy="362" rx="5" ry="7"/>
</g>
<!-- base -->
<defs>
<linearGradient id="brass2" x1="0" y1="0" x2="1" y2="0">
    <stop offset="0" stop-color="#4e4432"/>
    <stop offset="0.25" stop-color="#9a8c6c"/>
    <stop offset="0.5" stop-color="#c4b894"/>
    <stop offset="0.75" stop-color="#9a8c6c"/>
    <stop offset="1" stop-color="#4a4030"/>
</linearGradient>
</defs>
<path d="M691,395.5 L736.5,395.5 L736.5,400 L738,403 L736.5,406 L738,410.5 L736.5,413.5 L738,418 L736.5,421 L738,425.5 L735.6,429 L692,429 L689.6,425.5 L691,421 L689.6,418 L691,413.5 L689.6,410.5 L691,406 L689.6,403 L691,400 Z" fill="url(#brass2)"/>
<g fill="#3e3628" opacity="0.6">
<rect x="691" y="395.5" width="45.5" height="2.4"/>
<rect x="690" y="403.5" width="47" height="2.2"/>
<rect x="690" y="411" width="47" height="2.2"/>
<rect x="690" y="418.5" width="47" height="2.2"/>
<rect x="690" y="426" width="47" height="2"/>
</g>
<path d="M692,428.5 L735.6,428.5 L726,440.5 L702,440.5 Z" fill="#2e281e"/>
<path d="M696,428.5 L731,428.5 L727,433 L700,433 Z" fill="#6a5e48"/>
</g>

</svg>
</body>
</html>
